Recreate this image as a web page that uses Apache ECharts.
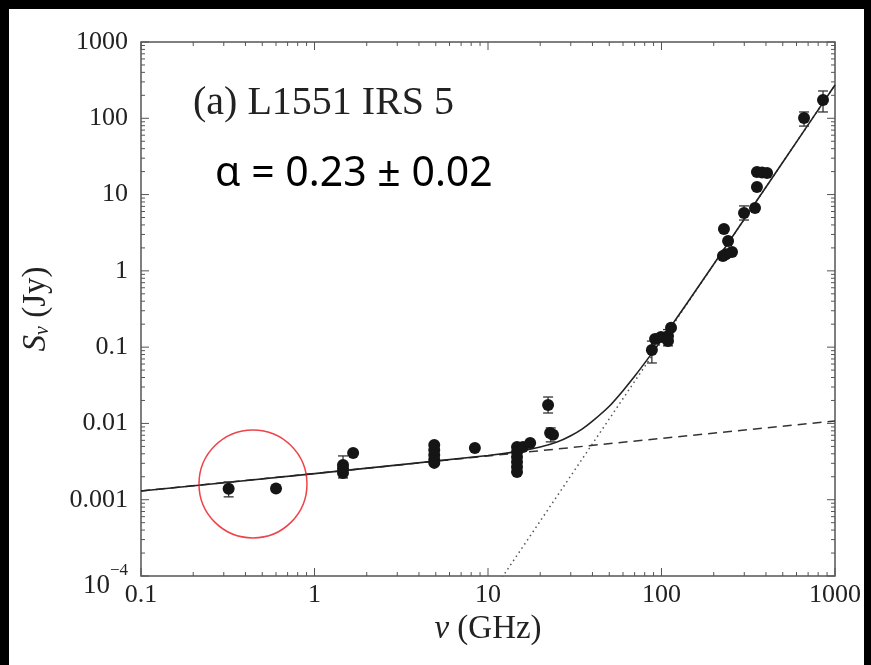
<!DOCTYPE html>
<html>
<head>
<meta charset="utf-8">
<script src="https://cdn.jsdelivr.net/npm/echarts@6/dist/echarts.min.js"></script>
<style>
  body { margin: 0; background: #000; }
  #main { position: absolute; left: 9px; top: 9px; width: 855px; height: 656px; background: #fff; }
</style>
</head>
<body>
<div id="main"></div>
<script type="text/javascript">
// observed fluxes (GHz, Jy)
var nuObs = [0.32, 0.60, 1.46, 1.46, 1.46, 1.67, 4.9, 4.9, 4.9, 4.9, 4.9, 8.4,
             14.7, 14.7, 14.7, 14.7, 14.7, 14.7, 15.9, 17.5, 22.2, 22.8, 23.7,
             88, 91.8, 99.3, 109, 109, 113.5, 229, 242, 226, 255, 235, 299, 346,
             355, 355, 406, 380, 663, 853];
var sObs = [0.00139, 0.0014, 0.00286, 0.00255, 0.00224, 0.0041, 0.00523, 0.0045, 0.00387, 0.00333, 0.00304, 0.00477,
            0.00492, 0.00423, 0.00364, 0.00313, 0.00269, 0.00231, 0.0049, 0.00555, 0.0175, 0.0075, 0.0071,
            0.092, 0.128, 0.136, 0.140, 0.12, 0.179, 3.54, 2.47, 1.57, 1.77, 1.65, 5.74, 6.67,
            12.6, 19.8, 19.2, 19.5, 101, 174];

// error bars
var errNu = [0.32, 1.46, 22.2, 23.0, 88, 109, 299, 663, 853];
var errLo = [0.00109, 0.00193, 0.0137, 0.00573, 0.062, 0.104, 4.64, 79, 121];
var errHi = [0.00171, 0.00375, 0.0222, 0.00873, 0.12, 0.17, 7.1, 121, 228];

// model curves
var ffNu = [0.1, 1000];
var ffS = [0.0013, 0.0108];
var dustNu = [10, 1000];
var dustS = [5.1e-5, 273];
var totNu = [0.1, 1, 10, 15, 20, 25, 30, 35, 40, 50, 60, 70, 85, 100, 200, 500, 1000];
var totS = [0.0013, 0.0022, 0.0038, 0.0043, 0.0049, 0.0057, 0.0069, 0.0085, 0.0107, 0.0168,
            0.0269, 0.0414, 0.0745, 0.124, 1.22, 26.5, 273];

// highlighted region
var circleNu = [0.442];
var circleS = [0.00161];

// ticks
var xTickLabels = ['0.1', '1', '10', '100', '1000'];
var yTickLabels = ['{b|10}{s|\u22124}', '0.001', '0.01', '0.1', '1', '10', '100', '1000'];
var xMin = 0.1, xMax = 1000, yMin = 1e-4, yMax = 1000;

function zip(a, b) {
    var out = [];
    for (var i = 0; i < a.length; i++) out.push([a[i], b[i]]);
    return out;
}

var errData = [];
for (var i = 0; i < errNu.length; i++) errData.push([errNu[i], errLo[i], errHi[i]]);

// tick marks on all four sides
var xTicks = [], yTicks = [];
for (var e = -1; e <= 3; e++) {
    xTicks.push([Math.pow(10, e), yMin, 8]);
    if (e < 3) for (var m = 2; m <= 9; m++) xTicks.push([m * Math.pow(10, e), yMin, 4]);
}
for (var e = -4; e <= 3; e++) {
    yTicks.push([xMin, Math.pow(10, e), 8]);
    if (e < 3) for (var m = 2; m <= 9; m++) yTicks.push([xMin, m * Math.pow(10, e), 4]);
}

var tickColor = '#555';
var serif = 'Liberation Serif';

function renderXTick(params, api) {
    var v = api.value(0), len = api.value(2);
    var b = api.coord([v, yMin]);
    var t = api.coord([v, yMax]);
    return {
        type: 'group',
        children: [
            {type: 'line', shape: {x1: b[0], y1: b[1], x2: b[0], y2: b[1] - len}, style: {stroke: tickColor, lineWidth: 1}},
            {type: 'line', shape: {x1: t[0], y1: t[1], x2: t[0], y2: t[1] + len}, style: {stroke: tickColor, lineWidth: 1}}
        ]
    };
}

function renderYTick(params, api) {
    var v = api.value(1), len = api.value(2);
    var l = api.coord([xMin, v]);
    var r = api.coord([xMax, v]);
    return {
        type: 'group',
        children: [
            {type: 'line', shape: {x1: l[0], y1: l[1], x2: l[0] + len, y2: l[1]}, style: {stroke: tickColor, lineWidth: 1}},
            {type: 'line', shape: {x1: r[0], y1: r[1], x2: r[0] - len, y2: r[1]}, style: {stroke: tickColor, lineWidth: 1}}
        ]
    };
}

function renderErr(params, api) {
    var x = api.value(0);
    var lo = api.coord([x, api.value(1)]);
    var hi = api.coord([x, api.value(2)]);
    var w = 5;
    var st = {stroke: '#333', lineWidth: 1.3};
    return {
        type: 'group',
        children: [
            {type: 'line', shape: {x1: lo[0], y1: lo[1], x2: hi[0], y2: hi[1]}, style: st},
            {type: 'line', shape: {x1: lo[0] - w, y1: lo[1], x2: lo[0] + w, y2: lo[1]}, style: st},
            {type: 'line', shape: {x1: hi[0] - w, y1: hi[1], x2: hi[0] + w, y2: hi[1]}, style: st}
        ]
    };
}

var myChart = echarts.init(document.getElementById('main'));
var option = {
    animation: false,
    grid: {left: 132, top: 33, width: 694, height: 534, show: true, borderColor: '#555', borderWidth: 1.5},
    xAxis: {
        type: 'log', logBase: 10, min: xMin, max: xMax, interval: 1,
        axisLine: {show: false}, axisTick: {show: false}, splitLine: {show: false},
        axisLabel: {
            margin: 6, color: '#222', fontFamily: serif, fontSize: 26,
            formatter: function (v) { return xTickLabels[Math.round(Math.log10(v)) + 1]; }
        },
        name: '{i|\u03bd}{n| (GHz)}', nameLocation: 'middle', nameGap: 28,
        nameTextStyle: {
            rich: {
                i: {fontFamily: serif, fontSize: 33, fontStyle: 'italic', color: '#222'},
                n: {fontFamily: serif, fontSize: 33, color: '#222'}
            }
        }
    },
    yAxis: {
        type: 'log', logBase: 10, min: yMin, max: yMax, interval: 1,
        axisLine: {show: false}, axisTick: {show: false}, splitLine: {show: false},
        axisLabel: {
            margin: 13, color: '#222', fontFamily: serif, fontSize: 26,
            formatter: function (v) { return yTickLabels[Math.round(Math.log10(v)) + 4]; },
            rich: {
                b: {fontFamily: serif, fontSize: 27, color: '#222', padding: [20, 0, 0, 0]},
                s: {fontFamily: serif, fontSize: 17, color: '#222', verticalAlign: 'top', padding: [10, 0, 0, 0]}
            }
        },
        name: '{i|S}{sub|\u03bd}{n| (Jy)}', nameLocation: 'middle', nameGap: 88, nameRotate: 90,
        nameTextStyle: {
            rich: {
                i: {fontFamily: serif, fontSize: 33, fontStyle: 'italic', color: '#222'},
                sub: {fontFamily: serif, fontSize: 20, fontStyle: 'italic', color: '#222', verticalAlign: 'bottom', padding: [8, 0, 0, 0]},
                n: {fontFamily: serif, fontSize: 33, color: '#222'}
            }
        }
    },
    graphic: [
        {type: 'text', left: 184, top: 74, style: {text: '(a) L1551 IRS 5', font: '40px "Liberation Serif"', fill: '#222'}},
        {type: 'text', left: 206, top: 145, style: {text: '\u03b1 = 0.23 \u00b1 0.02', font: '41px "Noto Sans"', fill: '#000'}}
    ],
    series: [
        {type: 'custom', renderItem: renderXTick, data: xTicks, silent: true, z: 1},
        {type: 'custom', renderItem: renderYTick, data: yTicks, silent: true, z: 1},
        {type: 'line', data: zip(ffNu, ffS), showSymbol: false, silent: true, z: 2,
         lineStyle: {color: '#333', width: 1.5, type: [9, 6]}},
        {type: 'line', data: zip(dustNu, dustS), showSymbol: false, silent: true, z: 2,
         lineStyle: {color: '#555', width: 1.5, type: [1.5, 3.5]}},
        {type: 'line', data: zip(totNu, totS), showSymbol: false, silent: true, z: 3, smooth: 0.2,
         lineStyle: {color: '#222', width: 1.6}},
        {type: 'custom', renderItem: renderErr, data: errData, silent: true, z: 4},
        {type: 'scatter', data: zip(nuObs, sObs), symbolSize: 12, silent: true, z: 5,
         itemStyle: {color: '#151515', opacity: 1}},
        {type: 'scatter', data: zip(circleNu, circleS), symbol: 'circle', symbolSize: 108, silent: true, z: 6,
         itemStyle: {color: 'rgba(0,0,0,0)', borderColor: '#e8141c', borderWidth: 1.5}}
    ]
};
myChart.setOption(option);
</script>
</body>
</html>
